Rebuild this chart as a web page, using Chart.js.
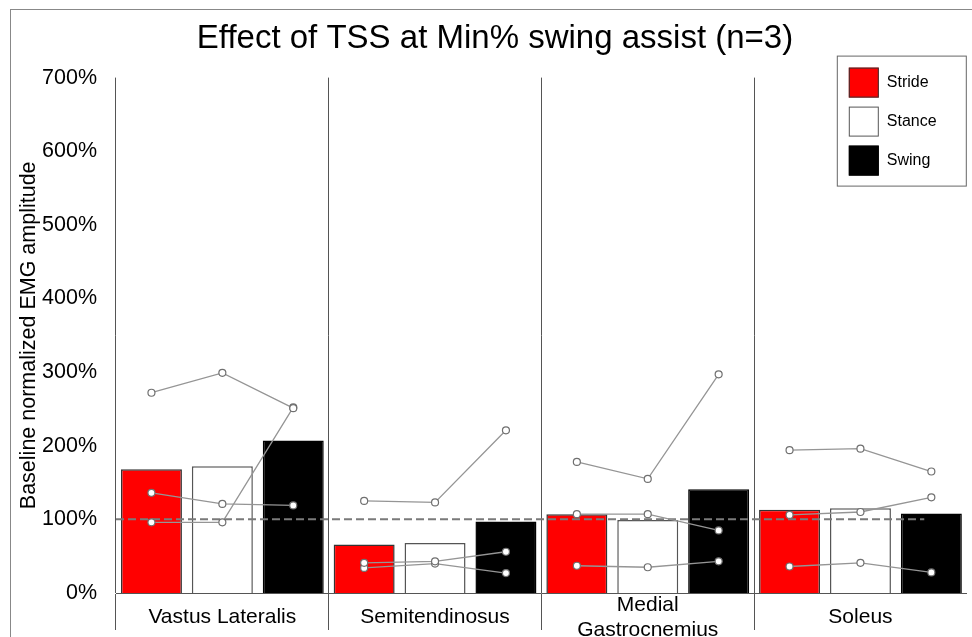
<!DOCTYPE html>
<html>
<head>
<meta charset="utf-8">
<script src="https://cdn.jsdelivr.net/npm/chart.js@4"></script>
<style>
    body { margin: 0; background: #fff; }
</style>
</head>
<body>
<canvas id="myChart" width="972" height="637"></canvas>
<script>
// chart data
const muscles = ['Vastus Lateralis', 'Semitendinosus', ['Medial', 'Gastrocnemius'], 'Soleus']
const phases = ['Stride', 'Stance', 'Swing']

// group means (% of baseline), one value per muscle
const strideMean = [168, 66, 107, 113]
const stanceMean = [172, 68, 99, 115]
const swingMean = [207, 97, 141, 108]

// individual subjects, [stride, stance, swing] per muscle
const subject1 = [[272, 299, 251], [125, 123, 221], [178, 155, 297], [194, 196, 165]]
const subject2 = [[136, 121, 119], [41, 43, 56], [107, 107, 85], [106, 110, 130]]
const subject3 = [[96, 96, 252], [34, 40, 27], [37, 35, 43], [36, 41, 28]]

const yTicks = [0, 100, 200, 300, 400, 500, 600, 700]

Chart.defaults.font.family = '"Liberation Sans", Arial, sans-serif'
Chart.defaults.color = '#000'

// one category per bar, 3 per muscle
let labels = []
muscles.forEach((m) => {
    phases.forEach((p) => labels.push(p))
})

function spread(values, slot) {
    let out = new Array(labels.length).fill(null)
    values.forEach((v, g) => { out[g * 3 + slot] = v })
    return out
}

function subjectLine(values, g) {
    let out = new Array(labels.length).fill(null)
    values.forEach((v, k) => { out[g * 3 + k] = v })
    return out
}

function barSet(label, values, slot, fill, border) {
    return {
        type: 'bar',
        label: label,
        data: spread(values, slot),
        backgroundColor: fill,
        borderColor: border,
        borderWidth: 1.5,
        grouped: false,
        barPercentage: 0.86,
        categoryPercentage: 1.0,
        order: 2
    }
}

let datasets = [
    barSet(phases[0], strideMean, 0, '#ff0000', '#333'),
    barSet(phases[1], stanceMean, 1, '#ffffff', '#555'),
    barSet(phases[2], swingMean, 2, '#000000', '#000')
]

let subjects = [subject1, subject2, subject3]
subjects.forEach((s, n) => {
    for (let g = 0; g < muscles.length; g++) {
        datasets.push({
            type: 'line',
            label: 'Subject ' + (n + 1),
            data: subjectLine(s[g], g),
            borderColor: '#959595',
            borderWidth: 1.3,
            pointRadius: 3.5,
            pointBackgroundColor: '#fff',
            pointBorderColor: '#707070',
            pointBorderWidth: 1.2,
            spanGaps: false,
            order: 1
        })
    }
})

// outer frame of the figure
const frame = {
    id: 'frame',
    beforeDraw(chart) {
        let ctx = chart.ctx
        ctx.save()
        ctx.strokeStyle = '#888'
        ctx.lineWidth = 1
        ctx.strokeRect(10.5, 9.5, 1000, 1000)
        ctx.restore()
    }
}

// dashed 100% baseline, drawn above the bars and under the subject lines
let baselineDone = false
const baseline = {
    id: 'baseline',
    beforeDatasetsDraw() { baselineDone = false },
    beforeDatasetDraw(chart, args) {
        if (baselineDone || args.meta.type !== 'line') return
        baselineDone = true
        let ctx = chart.ctx
        let y = chart.scales.y.getPixelForValue(100)
        ctx.save()
        ctx.strokeStyle = '#7a7a7a'
        ctx.lineWidth = 2
        ctx.setLineDash([8, 4])
        ctx.beginPath()
        ctx.moveTo(chart.chartArea.left, y)
        ctx.lineTo(chart.scales.x.getPixelForValue(10.9), y)
        ctx.stroke()
        ctx.restore()
    }
}

// boxed legend in the upper right corner
const legendBox = {
    id: 'legendBox',
    afterDraw(chart) {
        let ctx = chart.ctx
        let area = chart.chartArea
        let left = area.right - 130
        let top = area.top - 22
        ctx.save()
        ctx.fillStyle = '#fff'
        ctx.fillRect(left, top, 129, 130)
        ctx.strokeStyle = '#666'
        ctx.lineWidth = 1
        ctx.strokeRect(left + 0.5, top + 0.5, 129, 130)
        let bars = chart.data.datasets.filter((d) => d.type === 'bar')
        bars.forEach((d, i) => {
            let y = top + 12 + i * 39
            ctx.fillStyle = d.backgroundColor
            ctx.fillRect(left + 12, y, 30, 30)
            ctx.strokeStyle = d.borderColor
            ctx.strokeRect(left + 12.5, y + 0.5, 29, 29)
            ctx.fillStyle = '#000'
            ctx.font = '16px "Liberation Sans", Arial, sans-serif'
            ctx.textBaseline = 'middle'
            ctx.fillText(d.label, left + 50, y + 15)
        })
        ctx.restore()
    }
}

new Chart(document.getElementById('myChart'), {
    data: {
        labels: labels,
        datasets: datasets
    },
    options: {
        responsive: false,
        animation: false,
        layout: { padding: { left: 22, right: 4, top: 0, bottom: 0 } },
        plugins: {
            legend: { display: false },
            tooltip: { enabled: false },
            title: {
                display: true,
                text: 'Effect of TSS at Min% swing assist (n=3)',
                color: '#000',
                font: { size: 33, weight: 'normal' },
                padding: { top: 19, bottom: 19 }
            }
        },
        scales: {
            x: {
                grid: {
                    offset: true,
                    drawTicks: true,
                    tickLength: 37,
                    lineWidth: 1,
                    color: (c) => (c.index % 3 === 0 && c.index < labels.length) ? '#555' : 'rgba(0,0,0,0)'
                },
                border: { display: true, color: '#555', width: 1 },
                ticks: {
                    autoSkip: false,
                    maxRotation: 0,
                    minRotation: 0,
                    padding: -25,
                    crossAlign: 'center',
                    color: '#000',
                    font: { size: 21 },
                    callback: (v, i) => i % 3 === 1 ? muscles[(i - 1) / 3] : ''
                },
                afterFit: (scale) => { scale.height = 44 }
            },
            y: {
                min: yTicks[0],
                max: yTicks[yTicks.length - 1],
                afterBuildTicks: (scale) => { scale.ticks = yTicks.map((v) => ({ value: v })) },
                ticks: {
                    padding: 19,
                    color: '#000',
                    font: { size: 21.5 },
                    callback: (v) => v + '%'
                },
                grid: { display: false, drawTicks: false },
                border: { display: false },
                title: {
                    display: true,
                    text: 'Baseline normalized EMG amplitude',
                    color: '#000',
                    font: { size: 21.5 },
                    padding: { top: -6, bottom: 0 }
                },
                afterFit: (scale) => { scale.width = 94 }
            }
        }
    },
    plugins: [frame, baseline, legendBox]
})
</script>
</body>
</html>
